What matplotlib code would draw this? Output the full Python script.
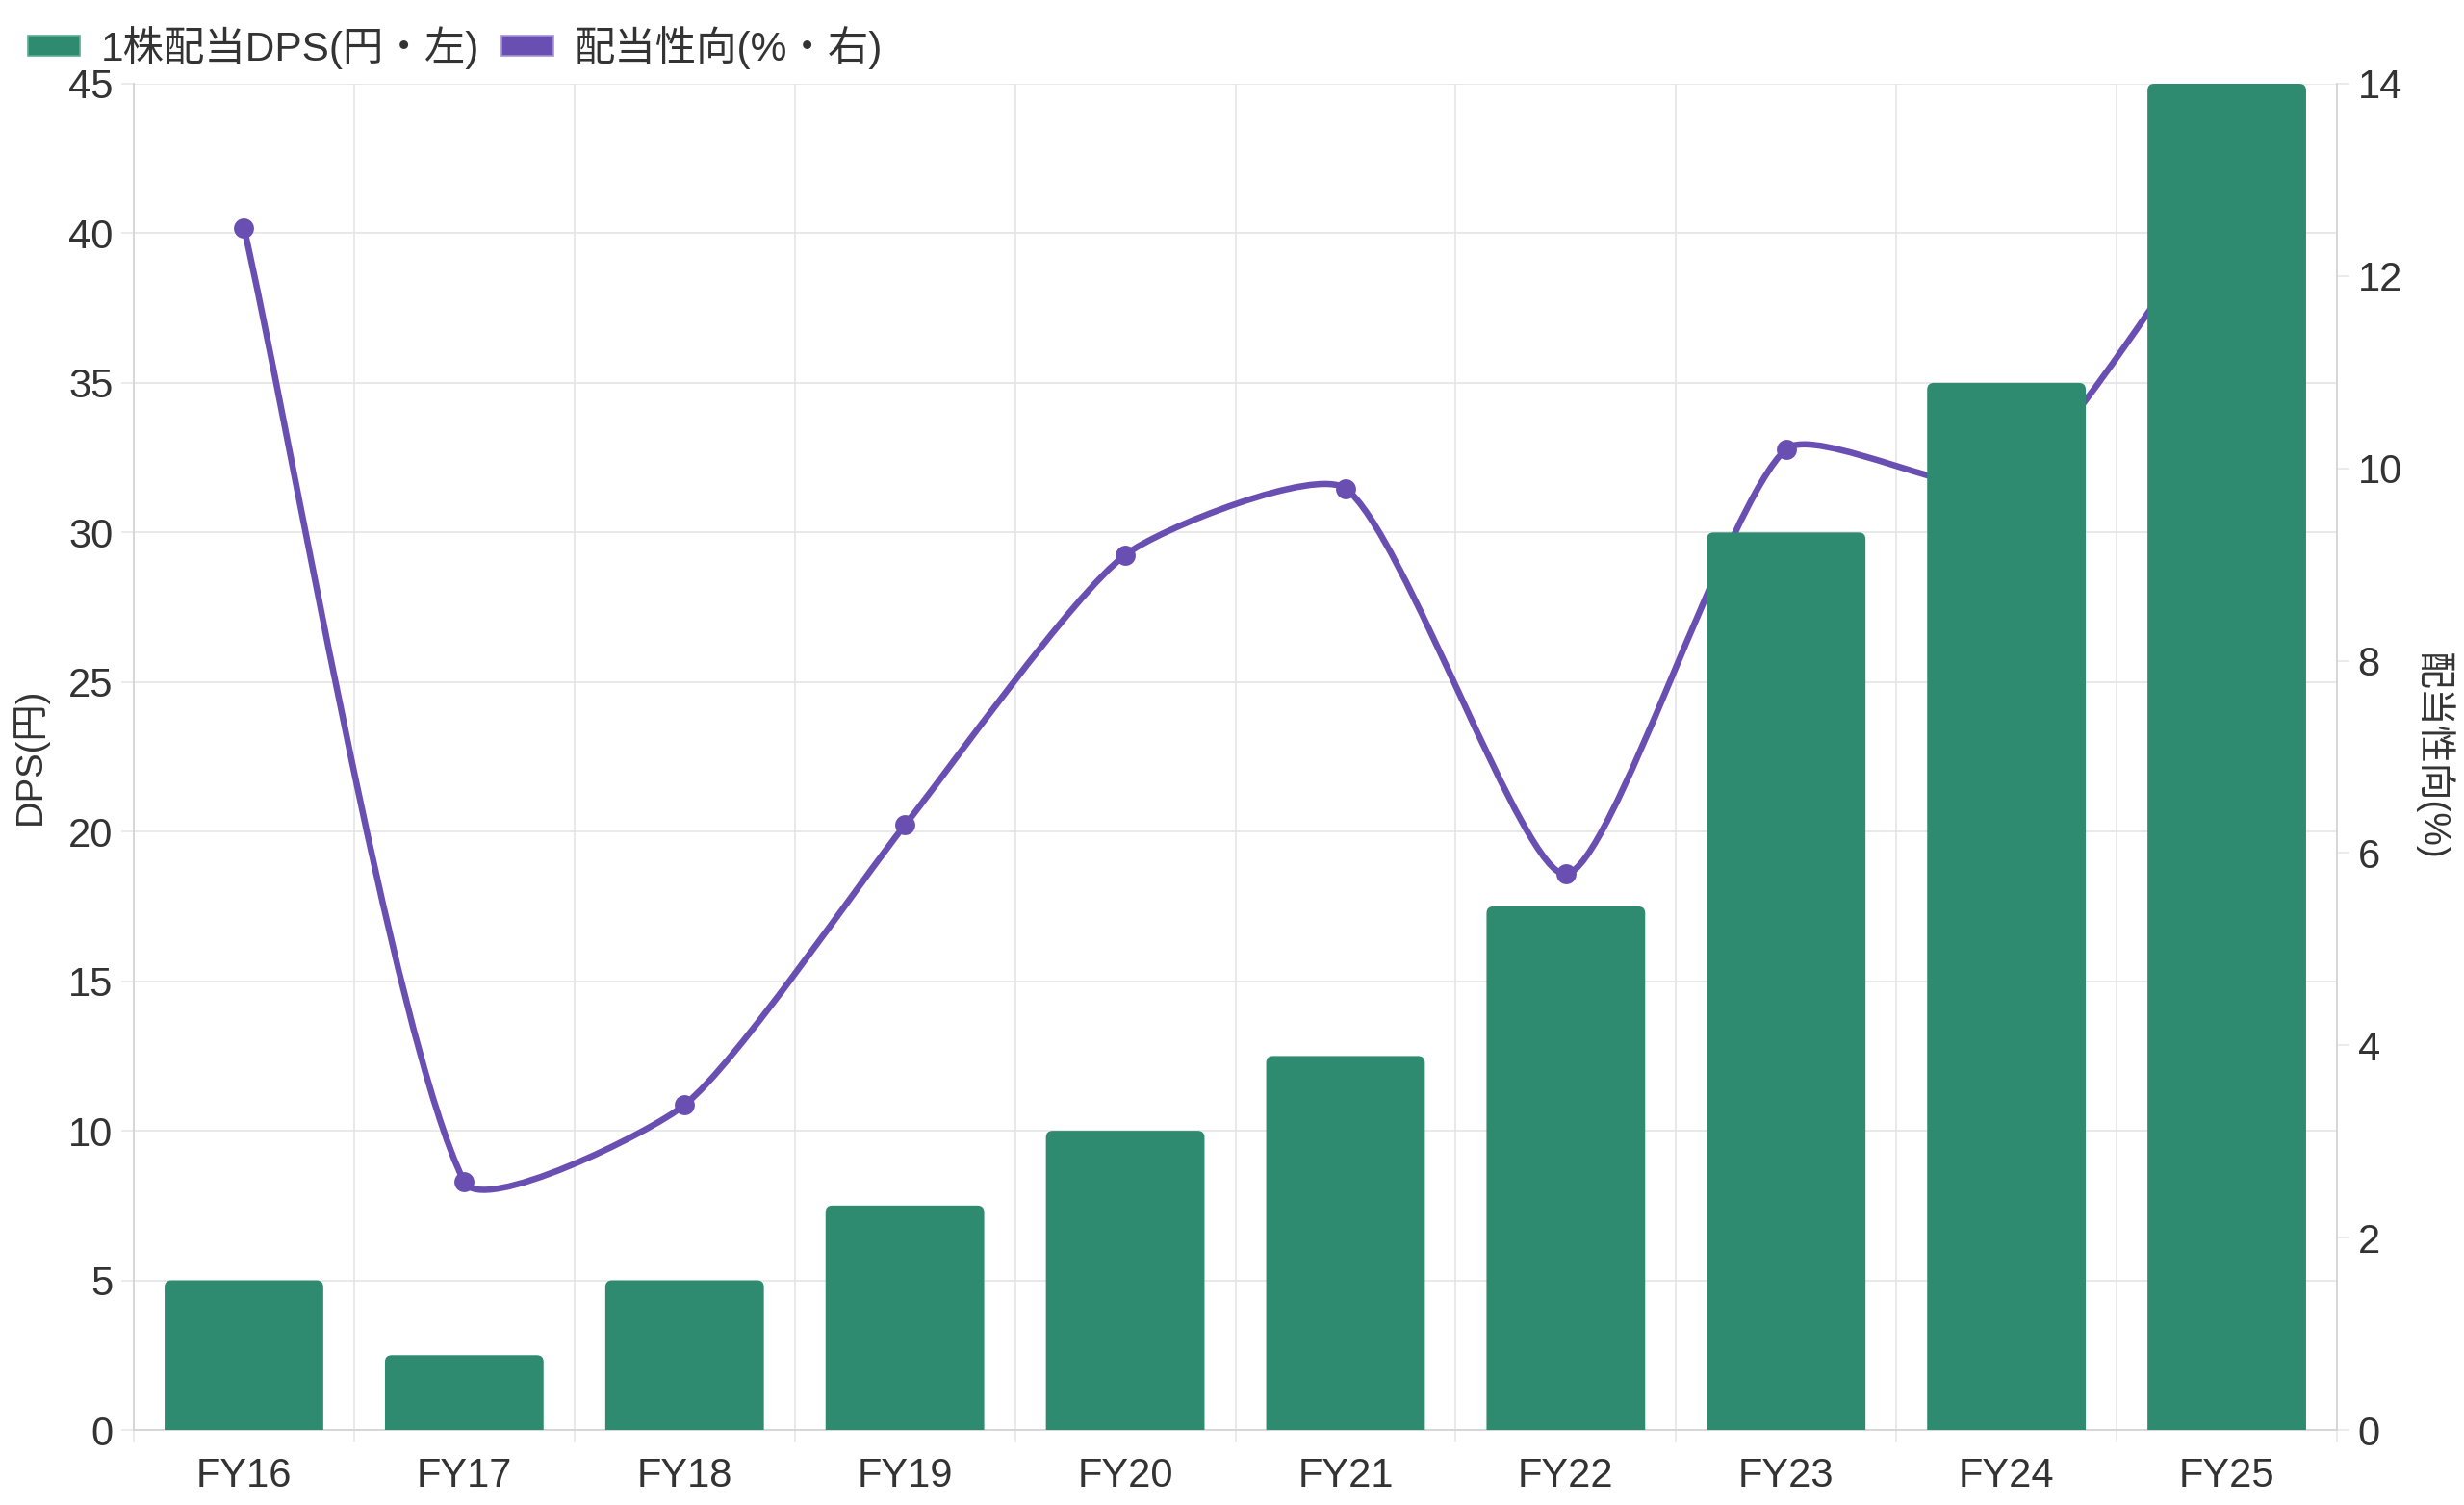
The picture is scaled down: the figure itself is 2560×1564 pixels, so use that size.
import numpy as np
import matplotlib
matplotlib.use('Agg')
import matplotlib.pyplot as plt
from matplotlib.path import Path
from matplotlib.patches import PathPatch, Patch, FancyBboxPatch
from matplotlib.ticker import MultipleLocator, FixedLocator

plt.rcParams['font.family'] = ['Liberation Sans', 'Noto Sans CJK JP', 'DejaVu Sans']

# ---------------- data ----------------
categories = ['FY16', 'FY17', 'FY18', 'FY19', 'FY20', 'FY21', 'FY22', 'FY23', 'FY24', 'FY25']
dps = [5, 2.5, 5, 7.5, 10, 12.5, 17.5, 30, 35, 45]
payout = [12.5, 2.58, 3.38, 6.29, 9.1, 9.79, 5.78, 10.2, 9.82, 12.8]
legend_labels = ['1株配当DPS(円・左)', '配当性向(%・右)']
left_title = 'DPS(円)'
right_title = '配当性向(%)'

# ---------------- style ----------------
GREEN = '#2e8b6f'
PURPLE = '#6a4fb3'
GRID = '#e5e5e5'
BORDER = '#d4d4d4'
TEXT = '#333333'
TICK_FS = 30
W, H = 2560, 1564

fig = plt.figure(figsize=(W / 100, H / 100), dpi=100)
fig.patch.set_facecolor('white')
rect = [139 / W, 1 - 1486 / H, (2428 - 139) / W, (1486 - 87) / H]

ax = fig.add_axes(rect)          # grid + left axis
ax2 = ax.twinx()                 # line + right axis
ax3 = fig.add_axes(rect, sharex=ax, sharey=ax)  # bars on top

x = np.arange(len(categories))
ax.set_xlim(-0.5, len(categories) - 0.5)
ax.set_ylim(0, 45)
ax2.set_ylim(0, 14)

# left axis
ax.yaxis.set_major_locator(MultipleLocator(5))
ax.set_xticks(x)
ax.set_xticklabels(categories)
ax.xaxis.set_minor_locator(FixedLocator(np.arange(-0.5, len(categories), 1)))
ax.tick_params(axis='x', which='major', length=0, pad=20, labelsize=TICK_FS, labelcolor=TEXT)
ax.tick_params(axis='x', which='minor', length=9.5, width=1.1, color=GRID)
ax.tick_params(axis='y', which='major', length=9.5, width=1.1, color=GRID, pad=6,
               labelsize=TICK_FS, labelcolor=TEXT)
ax.grid(axis='y', which='major', color=GRID, lw=1.2)
ax.grid(axis='x', which='minor', color=GRID, lw=1.2)
ax.grid(axis='x', which='major', visible=False)
for s in ['top', 'right']:
    ax.spines[s].set_visible(False)
for s in ['left', 'bottom']:
    ax.spines[s].set_color(BORDER)
    ax.spines[s].set_linewidth(1.3)

# right axis
ax2.yaxis.set_major_locator(MultipleLocator(2))
ax2.tick_params(axis='y', length=9.5, width=1.1, color=GRID, pad=6,
                labelsize=TICK_FS, labelcolor=TEXT)
for s in ['top', 'left', 'bottom']:
    ax2.spines[s].set_visible(False)
ax2.spines['right'].set_color(BORDER)
ax2.spines['right'].set_linewidth(1.3)
ax2.patch.set_visible(False)

# bars axes
ax3.axis('off')
ax3.patch.set_visible(False)

ax.set_zorder(0)
ax2.set_zorder(1)
ax3.set_zorder(2)

# bars (rounded top corners)
bars = ax3.bar(x, dps, width=0.72, color=GREEN, edgecolor='none')
px_per_x = ax3.bbox.width / (ax3.get_xlim()[1] - ax3.get_xlim()[0])
px_per_y = ax3.bbox.height / (ax3.get_ylim()[1] - ax3.get_ylim()[0])
r_px = 7.0
rx, ry = r_px / px_per_x, r_px / px_per_y
for b in bars:
    bx, by = b.get_x(), b.get_y()
    bw, bh = b.get_width(), b.get_height()
    fb = FancyBboxPatch((bx, by - 2 * ry), bw, bh + 2 * ry,
                        boxstyle=f'round,pad=0,rounding_size={rx}',
                        mutation_aspect=ry / rx, facecolor=GREEN, edgecolor='none')
    ax3.add_patch(fb)
    b.set_visible(False)

# spline line (Chart.js-like tension, computed in pixel space)
t = 0.2
pts = ax2.transData.transform(np.column_stack([x, payout]))
n = len(pts)
cp_prev, cp_next = [], []
bb = ax2.bbox
for i in range(n):
    cur = pts[i]
    prv = pts[i - 1] if i > 0 else pts[i]
    nxt = pts[i + 1] if i < n - 1 else pts[i]
    d01 = np.hypot(*(cur - prv))
    d12 = np.hypot(*(nxt - cur))
    tot = d01 + d12
    s01 = d01 / tot if tot else 0
    s12 = d12 / tot if tot else 0
    a = cur - t * s01 * (nxt - prv)
    b = cur + t * s12 * (nxt - prv)
    a = np.array([np.clip(a[0], bb.x0, bb.x1), np.clip(a[1], bb.y0, bb.y1)])
    b = np.array([np.clip(b[0], bb.x0, bb.x1), np.clip(b[1], bb.y0, bb.y1)])
    cp_prev.append(a)
    cp_next.append(b)
verts = [pts[0]]
codes = [Path.MOVETO]
for i in range(n - 1):
    verts += [cp_next[i], cp_prev[i + 1], pts[i + 1]]
    codes += [Path.CURVE4] * 3
verts = ax2.transData.inverted().transform(np.array(verts))
ax2.add_patch(PathPatch(Path(verts, codes), facecolor='none', edgecolor=PURPLE,
                        lw=4.7, transform=ax2.transData, capstyle='round', joinstyle='round'))
ax2.plot(x, payout, linestyle='none', marker='o', markersize=15, color=PURPLE,
         markeredgewidth=0)

# axis titles
fig.text(31 / W, 1 - 786 / H, left_title, rotation=90, ha='center', va='center',
         fontsize=27.5, color=TEXT)
fig.text(2528 / W, 1 - 786 / H, right_title, rotation=-90, ha='center', va='center',
         fontsize=28, color=TEXT)

# legend
handles = [Patch(facecolor=GREEN, edgecolor='#5fae95', lw=1.2),
           Patch(facecolor=PURPLE, edgecolor='#a592d6', lw=1.2)]
fig.legend(handles, legend_labels, loc='upper left', bbox_to_anchor=(29 / W, 1 - 27 / H),
           ncol=2, frameon=False, fontsize=30.5, handlelength=1.28, handleheight=0.38,
           handletextpad=0.5, columnspacing=0.55, borderpad=0, borderaxespad=0,
           labelcolor=TEXT)

fig.savefig('out.png', dpi=100, facecolor='white')
